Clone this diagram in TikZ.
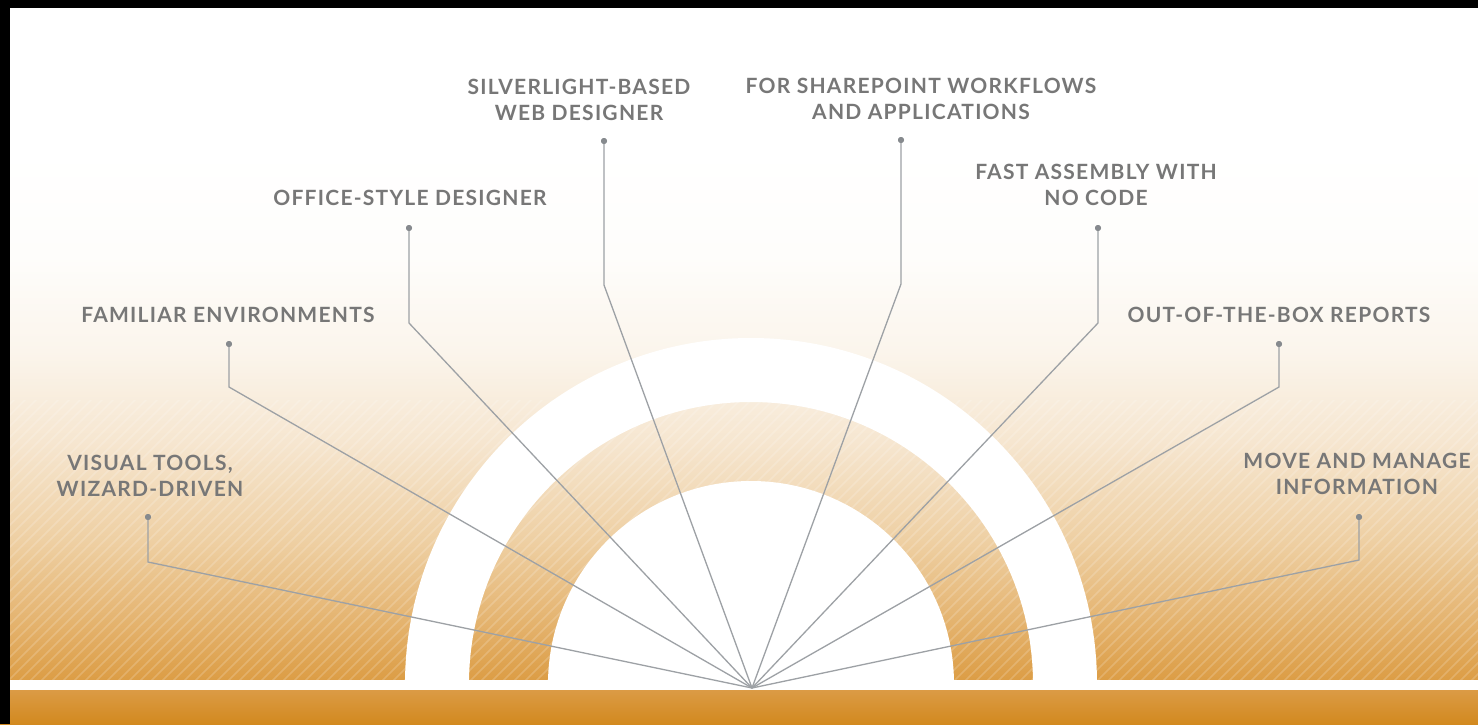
\documentclass[tikz,border=0pt]{standalone}
\usepackage{fontspec}
\newfontfamily\lblfont{Lato}[LetterSpace=6]
\definecolor{txtgray}{HTML}{777777}
\definecolor{linegray}{HTML}{9DA1A5}
\definecolor{dotgray}{HTML}{868A8E}
\definecolor{og0}{HTML}{DC9D45}
\definecolor{og1}{HTML}{E5B572}
\definecolor{og2}{HTML}{EECFA2}
\definecolor{og3}{HTML}{F6E6D0}
\definecolor{og4}{HTML}{FBF5EC}
\definecolor{og5}{HTML}{FEFDFB}
\definecolor{bandtop}{HTML}{DB9B45}
\definecolor{bandbot}{HTML}{D2891F}
\pgfdeclareverticalshading{bgshade}{100bp}{color(0bp)=(og0); color(25bp)=(og0); color(31bp)=(og1); color(38bp)=(og2); color(47.5bp)=(og3); color(56bp)=(og4); color(65bp)=(og5); color(75bp)=(white); color(100bp)=(white)}
\tikzset{
  conn/.style={draw=linegray, line width=1.3pt, line join=miter},
  dotnode/.style={circle, fill=dotgray, inner sep=0pt, minimum size=6pt},
  lbl/.style={text=txtgray, font=\lblfont\bfseries\fontsize{21}{25.5}\selectfont, align=center, inner sep=0pt},
}
\begin{document}
\begin{tikzpicture}[x=1pt, y=-1pt]
\useasboundingbox (0,0) rectangle (1478,724);
% background
\fill[white] (0,0) rectangle (1478,724);
\shade[shading=bgshade] (0,150) rectangle (1478,680);
% stripes
\begin{scope}
  \clip (0,400) rectangle (1478,680);
  \foreach \i in {-320,-309,...,1478} {
    \draw[white, opacity=0.18, line width=1.5pt] (\i,690) -- ++(330,-330);
  }
\end{scope}
% white arcs
\begin{scope}
  \clip (0,0) rectangle (1478,680);
  \fill[white, even odd rule] (751,684) circle (346) (751,684) circle (282);
  \fill[white] (751,684) circle (203);
\end{scope}
% white strip and bottom band
\fill[white] (0,680) rectangle (1478,690);
\shade[top color=bandtop, bottom color=bandbot] (0,690) rectangle (1478,724);
% black frame
\fill[black] (0,0) rectangle (1478,8);
\fill[black] (0,0) rectangle (10,724);
% hub
\coordinate (P) at (752,688);
% connectors
\node[dotnode] (d1) at (148,517) {};
\coordinate (b1) at (148,562);
\node[dotnode] (d2) at (229,344) {};
\coordinate (b2) at (229,387);
\node[dotnode] (d3) at (409,228) {};
\coordinate (b3) at (409,323);
\node[dotnode] (d4) at (604,141) {};
\coordinate (b4) at (604,285);
\node[dotnode] (d5) at (901,140) {};
\coordinate (b5) at (901,284);
\node[dotnode] (d6) at (1098,228) {};
\coordinate (b6) at (1098,323);
\node[dotnode] (d7) at (1279,344) {};
\coordinate (b7) at (1279,387);
\node[dotnode] (d8) at (1359,517) {};
\coordinate (b8) at (1359,560);
\foreach \k in {1,...,8} {
  \draw[conn] (d\k.center) -- (b\k) -- (P);
}
\foreach \k in {1,...,8} {
  \node[dotnode] at (d\k) {};
}
% labels
\node[lbl] (t1) at (150,476) {VISUAL TOOLS,\\WIZARD-DRIVEN};
\node[lbl] (t2) at (228,315) {FAMILIAR ENVIRONMENTS};
\node[lbl] (t3) at (410,198) {OFFICE-STYLE DESIGNER};
\node[lbl] (t4) at (579,100) {SILVERLIGHT-BASED\\WEB DESIGNER};
\node[lbl] (t5) at (921,99) {FOR SHAREPOINT WORKFLOWS\\AND APPLICATIONS};
\node[lbl] (t6) at (1096,185) {FAST ASSEMBLY WITH\\NO CODE};
\node[lbl] (t7) at (1279,315) {OUT-OF-THE-BOX REPORTS};
\node[lbl] (t8) at (1357,474) {MOVE AND MANAGE\\INFORMATION};
\end{tikzpicture}
\end{document}
